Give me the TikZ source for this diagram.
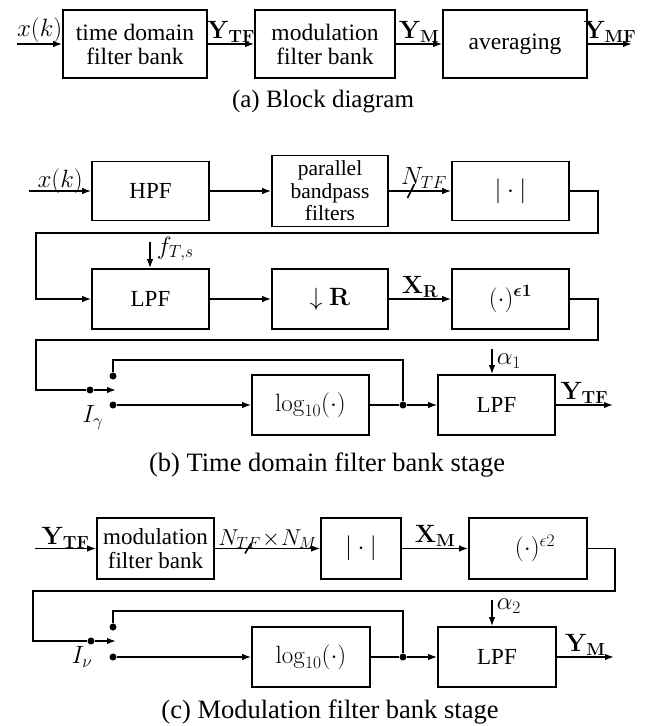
\RequirePackage{fix-cm}
\documentclass[tikz,border=0pt]{standalone}
\usepackage{amsmath,amssymb}
\usepackage[no-math]{fontspec}
\setmainfont{Liberation Serif}
\usetikzlibrary{arrows.meta}
\begin{document}
\begin{tikzpicture}[x=1pt,y=-1pt,line width=1.6pt,
  box/.style={draw,line width=1.6pt,inner sep=0pt,align=center,font=\fontsize{23}{24}\selectfont},
  mbox/.style={box,font=\fontsize{25}{26}\selectfont},
  boxa/.style={box,font=\fontsize{23.5}{24}\selectfont,minimum height=68pt,minimum width=144pt},
  arr/.style={-{Latex[length=9pt,width=6.5pt]}},
  lbl/.style={inner sep=1pt,font=\fontsize{25}{26}\selectfont},
  captxt/.style={font=\fontsize{26.5}{28}\selectfont},
  dot/.style={circle,fill,inner sep=0pt,minimum size=7pt}]
\useasboundingbox (0,0) rectangle (651,726);

% ---------------- (a)
\node[boxa] (a1) at (135,44) {time domain\\filter bank};
\node[boxa,minimum width=140pt] (a2) at (325,44) {modulation\\filter bank};
\node[boxa] (a3) at (515,44) {averaging};
\coordinate (ain) at (17,44);
\coordinate (aout) at (632,44);
\draw[arr] (ain) -- node[above,lbl,yshift=-1pt] {$x(k)$} (a1);
\draw[arr] (a1) -- node[above,lbl] {$\mathbf{Y}_{\mathbf{TF}}$} (a2);
\draw[arr] (a2) -- node[above,lbl] {$\mathbf{Y}_{\mathbf{M}}$} (a3);
\draw[arr] (a3) -- node[above,lbl] {$\mathbf{Y}_{\mathbf{MF}}$} (aout);
\node[captxt,font=\fontsize{25}{27}\selectfont] (capa) at (323,102) {(a) Block diagram};

% ---------------- (b)
\node[box,minimum width=117pt,minimum height=59pt] (hpf) at (150.5,191) {HPF};
\node[box,minimum width=116pt,minimum height=71pt,font=\fontsize{21.5}{22.5}\selectfont] (par) at (330,191) {parallel\\bandpass\\filters};
\node[mbox,minimum width=117pt,minimum height=59pt] (abs1) at (510.5,191) {$|\cdot|$};
\node[box,minimum width=117pt,minimum height=60pt] (lpf1) at (150.5,299) {LPF};
\node[mbox,minimum width=116pt,minimum height=60pt] (dwn) at (330,299) {$\downarrow\mathbf{R}$};
\node[mbox,minimum width=117pt,minimum height=60pt] (pow1) at (510.5,299) {$(\cdot)^{\boldsymbol{\epsilon 1}}$};
\node[mbox,minimum width=117pt,minimum height=60pt] (log1) at (310.5,405) {$\log_{10}(\cdot)$};
\node[box,minimum width=117pt,minimum height=60pt] (lpf2) at (496.5,405) {LPF};

\coordinate (bin) at (29,191);
\draw[arr] (bin) -- node[above,lbl,yshift=-5pt] {$x(k)$} (hpf);
\draw[arr] (hpf) -- (par);
\draw[arr] (par) -- node[above,lbl,xshift=4pt,yshift=1pt] {$N_{TF}$} (abs1);
\coordinate (sl1) at (411,191);
\draw (sl1) ++(-3.5,7) -- ++(7,-14);
\draw[arr] (abs1.east) -- ++(28,0) |- (36,233) |- (lpf1.west);
\coordinate (fts) at (150,242);
\draw[arr] (fts) -- (lpf1.north -| fts);
\node[lbl,anchor=west] (ftsl) at (155,249) {$f_{T,s}$};
\draw[arr] (lpf1) -- (dwn);
\draw[arr] (dwn) -- node[above,lbl] {$\mathbf{X}_{\mathbf{R}}$} (pow1);

\node[dot] (sin1) at (90,390) {};
\node[dot] (su1) at (113,376) {};
\node[dot] (sl1d) at (113,405) {};
\node[dot] (jn1) at (403,405) {};
\coordinate (stip1) at (116,390);
\draw (pow1.east) -- ++(28,0) |- (36,340) |- (sin1);
\draw[arr] (sin1) -- (stip1);
\draw (su1) -- ++(0,-16) -| (jn1);
\draw[arr] (sl1d) -- (log1);
\draw (log1) -- (jn1);
\draw[arr] (jn1) -- (lpf2);
\node[lbl] (ig) at (93,418) {$I_\gamma$};
\coordinate (a1t) at (492,349);
\draw[arr] (a1t) -- (lpf2.north -| a1t);
\node[lbl,anchor=west] (a1l) at (495,361) {$\alpha_1$};
\coordinate (bout) at (613,405);
\draw[arr] (lpf2) -- node[above,lbl] {$\mathbf{Y}_{\mathbf{TF}}$} (bout);
\node[captxt] (capb) at (327,465) {(b) Time domain filter bank stage};

% ---------------- (c)
\node[box,minimum width=117pt,minimum height=61pt] (mfb) at (155.5,548.5) {modulation\\filter bank};
\node[mbox,minimum width=80pt,minimum height=61pt] (abs2) at (361,548.5) {$|\cdot|$};
\node[mbox,minimum width=118pt,minimum height=61pt] (pow2) at (528,548.5) {\hspace*{14pt}$(\cdot)^{\epsilon 2}$};
\node[mbox,minimum width=118pt,minimum height=60pt] (log2) at (311,657) {$\log_{10}(\cdot)$};
\node[box,minimum width=118pt,minimum height=60pt] (lpf3) at (497,657) {LPF};

\coordinate (cin) at (35,548.5);
\draw[arr] (cin) -- node[above,lbl,yshift=-2pt] {$\mathbf{Y}_{\mathbf{TF}}$} (mfb);
\draw[arr] (mfb) -- node[above,lbl,yshift=-2pt,font=\fontsize{23}{24}\selectfont] {$N_{TF}\!\times\! N_M$} (abs2);
\coordinate (sl2) at (248,548.5);
\draw (sl2) ++(-3,5) -- ++(6,-10);
\draw[arr] (abs2) -- node[above,lbl] {$\mathbf{X}_{\mathbf{M}}$} (pow2);

\node[dot] (sin2) at (91,641) {};
\node[dot] (su2) at (113,627) {};
\node[dot] (sl2d) at (113,657) {};
\node[dot] (jn2) at (403,657) {};
\coordinate (stip2) at (116,641);
\draw (pow2.east) -- ++(27,0) |- (33,591) |- (sin2);
\draw[arr] (sin2) -- (stip2);
\draw (su2) -- ++(0,-16) -| (jn2);
\draw[arr] (sl2d) -- (log2);
\draw (log2) -- (jn2);
\draw[arr] (jn2) -- (lpf3);
\node[lbl] (inu) at (82,657) {$I_\nu$};
\coordinate (a2t) at (492,600);
\draw[arr] (a2t) -- (lpf3.north -| a2t);
\node[lbl,anchor=west] (a2l) at (495,606) {$\alpha_2$};
\coordinate (cout) at (614,657);
\draw[arr] (lpf3) -- node[above,lbl] {$\mathbf{Y}_{\mathbf{M}}$} (cout);
\node[captxt] (capc) at (330,712) {(c) Modulation filter bank stage};
\end{tikzpicture}
\end{document}
